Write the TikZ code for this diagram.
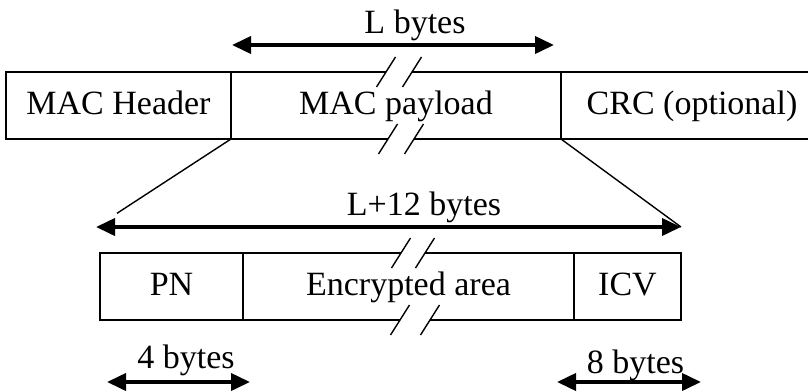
\documentclass[tikz,border=0pt]{standalone}
\usepackage{fontspec}
\setmainfont{Liberation Serif}
\usetikzlibrary{arrows.meta,positioning}
\tikzset{
  field/.style={draw=black,line width=1.9pt,inner sep=0pt,outer sep=0pt,
                minimum height=67pt,text height=24pt,text depth=7pt,
                font=\fontsize{34}{40}\selectfont},
  lbl/.style={inner sep=0pt,anchor=base,font=\fontsize{34}{40}\selectfont},
  span/.style={{Triangle[length=19pt,width=17pt]}-{Triangle[length=19pt,width=17pt]},
               line width=3.8pt},
  zoomline/.style={line width=1.4pt},
  cut/.style={line width=1.4pt}
}
\begin{document}
\begin{tikzpicture}[x=1pt,y=-1pt]
  \useasboundingbox (0,0) rectangle (808,391);

  % upper frame
  \node[field,minimum width=225pt] (hdr) at (118.5,105.5) {MAC Header};
  \node[field,minimum width=330pt,right=0pt of hdr] (pay) {MAC payload};
  \node[field,minimum width=262pt,right=0pt of pay] (crc) {CRC (optional)};

  % lower frame
  \node[field,minimum width=143pt] (pn) at (171.5,286.5) {PN};
  \node[field,minimum width=331pt,right=0pt of pn] (enc) {Encrypted area};
  \node[field,minimum width=107pt,right=0pt of enc] (icv) {ICV};

  % length arrows
  \coordinate (lbl) at (232,45);
  \coordinate (lbr) at (554,45);
  \coordinate (ltl) at (96,227);
  \coordinate (ltr) at (681,227);
  \coordinate (fbl) at (107,382);
  \coordinate (fbr) at (250,382);
  \coordinate (ebl) at (557,382);
  \coordinate (ebr) at (701,382);
  \foreach \a/\b in {lbl/lbr,ltl/ltr,fbl/fbr,ebl/ebr}
    \draw[span] (\a)--(\b);

  \node[lbl] (lbytes) at (415,33) {L bytes};
  \node[lbl] (ltbytes) at (424,215) {L+12 bytes};
  \node[lbl] (fbytes) at (186,368) {4 bytes};
  \node[lbl] (ebytes) at (635.5,373) {8 bytes};

  % expansion lines
  \draw[zoomline,shorten >=25pt] (hdr.south east) -- (ltl);
  \draw[zoomline] (pay.south east) -- (ltr);

  % break marks
  \foreach \x/\y/\s in {386/72/26, 388/139/26, 401/253/24, 400/320/30}{
    \fill[white] (\x-1.5,\y+2.8) -- (\x+\s-1.5,\y+2.8)
                 -- (\x+\s+1.5,\y-2.8) -- (\x+1.5,\y-2.8) -- cycle;
    \draw[cut] (\x-9.5,\y+15) -- (\x+9.5,\y-15);
    \draw[cut] (\x+\s-9.5,\y+15) -- (\x+\s+9.5,\y-15);
  }
\end{tikzpicture}
\end{document}
